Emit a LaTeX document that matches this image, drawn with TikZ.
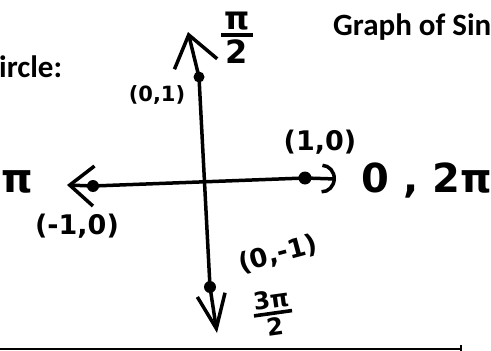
\documentclass[tikz,border=0pt]{standalone}
\usepackage{fontspec}
\setmainfont{DejaVu Sans}
\newfontfamily\titlefont{Carlito}
\usetikzlibrary{arrows.meta}

\tikzset{
  axis/.style={line width=3.5pt, line cap=round, line join=round},
  dot/.style={circle, fill=black, inner sep=0pt, minimum size=#1},
  hand/.style={font=\bfseries\fontsize{#1}{#1}\selectfont, inner sep=0pt},
  heading/.style={font=\titlefont\bfseries\fontsize{31}{31}\selectfont,
    inner sep=0pt, anchor=base west},
}

\begin{document}
\begin{tikzpicture}[x=1pt,y=-1pt]
  \useasboundingbox (0,0) rectangle (491,351);

  % Headings, cut by the page edge
  \node[heading] (title) at (333,35) {Graph of Sin};
  \node[heading] (sub) at (-1,77) {ircle:};

  % Points of the unit circle
  \node[dot=11pt] (up) at (199,77) {};
  \node[dot=12pt] (down) at (210,287) {};
  \node[dot=12pt] (left) at (93,186) {};
  \node[dot=13pt] (right) at (305,178) {};

  % Axes with hand-drawn tips
  \coordinate (ytop) at (188,32);
  \coordinate (ybot) at (217,333);
  \coordinate (xleft) at (67,185);
  \coordinate (xright) at (336,179);
  \draw[axis, {Straight Barb[length=30pt,width=44pt]}-{Straight Barb[length=34pt,width=28pt]}]
    (ytop) -- (up.center) -- (down.center) -- (ybot);
  \draw[axis, {Straight Barb[length=24pt,width=40pt]}-{Arc Barb[length=14pt,width=30pt]}]
    (xleft) -- (left.center) -- (right.center) -- (xright);

  % Coordinates of the points
  \node[hand=21pt] (lup) at (157,95) {(0,1)};
  \node[hand=27pt] (lright) at (320,142) {(1,0)};
  \node[hand=27pt] (lleft) at (77,226) {(-1,0)};
  \node[hand=26pt, rotate=15] (ldown) at (278,254) {(0,-1)};

  % Angles
  \node[hand=32pt] (ahalf) at (237,38) {\shortstack{π\\\rule{1em}{0.12em}\\2}};
  \node[hand=40pt] (api) at (17,182) {π};
  \node[hand=40pt] (azero) at (427,180) {0 , 2π};
  \node[hand=24pt, rotate=8] (athree) at (273,313) {\shortstack{3π\\\rule{1.6em}{0.15em}\\2}};

  % Top edge of the box below
  \draw[line width=2.5pt] (0,349) -- (461,349);
  \draw[line width=1.5pt] (461,345) -- (461,351);

\end{tikzpicture}
\end{document}
